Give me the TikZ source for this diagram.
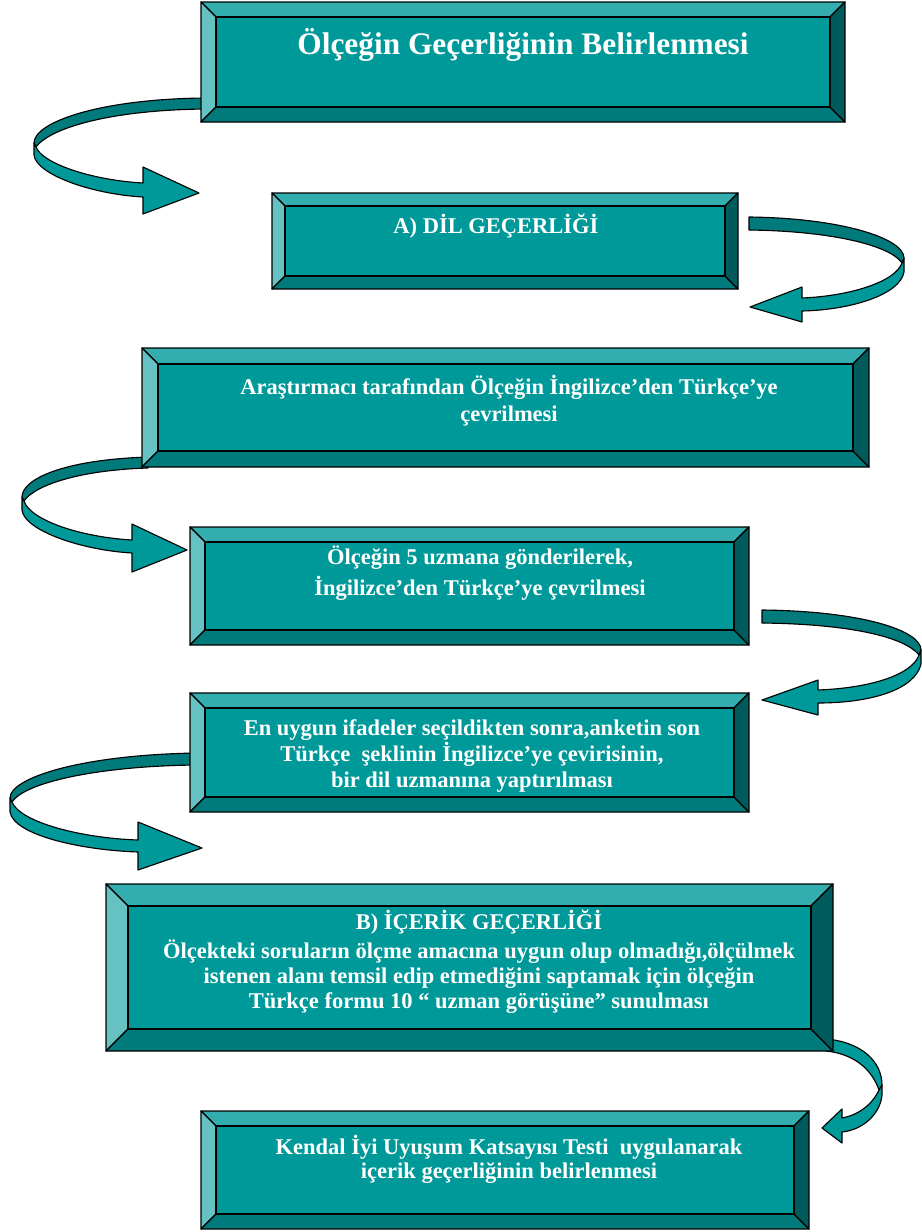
\documentclass[tikz,border=0pt]{standalone}
\usepackage{fontspec}
\setmainfont{Liberation Serif}
\definecolor{bvface}{HTML}{009999}
\definecolor{bvtop}{HTML}{33ADAD}
\definecolor{bvleft}{HTML}{66C2C2}
\definecolor{bvbottom}{HTML}{007A7A}
\definecolor{bvright}{HTML}{005C5C}
\definecolor{ribdark}{HTML}{007A7A}
\definecolor{riblight}{HTML}{009999}
\newcommand\bevbox[5]{%
  \filldraw[bvline, fill=bvtop] (#1,#2) -- (#3,#2) -- (#3-#5,#2+#5) -- (#1+#5,#2+#5) -- cycle;
  \filldraw[bvline, fill=bvleft] (#1,#2) -- (#1+#5,#2+#5) -- (#1+#5,#4-#5) -- (#1,#4) -- cycle;
  \filldraw[bvline, fill=bvbottom] (#1,#4) -- (#1+#5,#4-#5) -- (#3-#5,#4-#5) -- (#3,#4) -- cycle;
  \filldraw[bvline, fill=bvright] (#3,#2) -- (#3,#4) -- (#3-#5,#4-#5) -- (#3-#5,#2+#5) -- cycle;
  \filldraw[bvline, fill=bvface] (#1+#5,#2+#5) rectangle (#3-#5,#4-#5);
}
\begin{document}
\begin{tikzpicture}[x=0.025cm,y=-0.025cm,line join=round,
  bvline/.style={draw=black,line width=0.9pt},
  ribbon/.style={draw=black,line width=0.8pt},
  txt/.style={text=white,align=center,inner sep=0pt,font=\bfseries}]
\useasboundingbox (0,0) rectangle (922,1232);

% ribbon arrows (drawn first, tails under boxes)
% arrow 1
\filldraw[ribbon,fill=ribdark] (205,98) .. controls (100,99) and (34,122) .. (34,143) -- (36,147) .. controls (50,128) and (110,110) .. (205,109) -- cycle;
\filldraw[ribbon,fill=riblight] (34,143) -- (34,155) .. controls (36,174) and (90,194) .. (143,197) -- (143,214) -- (199,193) -- (143,167) -- (143,183) .. controls (90,180) and (42,163) .. (36,147) -- cycle;
% arrow 2
\filldraw[ribbon,fill=ribdark] (749,217) .. controls (840,218) and (904,238) .. (904,258) -- (902,263) .. controls (890,245) and (830,231) .. (749,230) -- cycle;
\filldraw[ribbon,fill=riblight] (904,258) -- (904,272) .. controls (900,295) and (850,310) .. (802,311) -- (802,322) -- (750,307) -- (802,287) -- (802,298) .. controls (850,296) and (895,282) .. (902,263) -- cycle;
% arrow 3
\filldraw[ribbon,fill=ribdark] (148,457) .. controls (60,460) and (22,480) .. (22,497) -- (24,501) .. controls (35,485) and (80,470) .. (148,468) -- cycle;
\filldraw[ribbon,fill=riblight] (22,497) -- (22,510) .. controls (24,530) and (80,550) .. (132,553) -- (132,572) -- (187,550) -- (132,524) -- (132,540) .. controls (80,537) and (30,520) .. (24,501) -- cycle;
% arrow 4
\filldraw[ribbon,fill=ribdark] (762,610) .. controls (860,611) and (921,630) .. (921,650) -- (919,655) .. controls (905,637) and (850,624) .. (762,623) -- cycle;
\filldraw[ribbon,fill=riblight] (921,650) -- (921,664) .. controls (915,690) and (870,703) .. (818,703) -- (818,715) -- (762,700) -- (818,680) -- (818,690) .. controls (870,688) and (912,675) .. (919,655) -- cycle;
% arrow 5
\filldraw[ribbon,fill=ribdark] (196,753) .. controls (80,755) and (10,778) .. (10,798) -- (12,802) .. controls (25,782) and (100,766) .. (196,765) -- cycle;
\filldraw[ribbon,fill=riblight] (10,798) -- (10,812) .. controls (14,835) and (80,850) .. (138,852) -- (138,870) -- (202,848) -- (138,822) -- (138,840) .. controls (80,838) and (20,822) .. (12,802) -- cycle;
% arrow 6
\filldraw[ribbon,fill=riblight] (826,1039) .. controls (862,1042) and (882,1062) .. (882,1085) -- (879,1090) .. controls (872,1070) and (855,1054) .. (826,1051) -- cycle;
\filldraw[ribbon,fill=riblight] (882,1085) -- (882,1095) .. controls (880,1115) and (862,1130) .. (842,1132) -- (842,1143) -- (822,1128) -- (842,1109) -- (842,1118) .. controls (858,1115) and (872,1105) .. (879,1090) -- cycle;

% boxes
\bevbox{201}{2}{845}{122}{15}
\bevbox{272}{193}{738}{289}{13}
\bevbox{142}{348}{869}{467}{16}
\bevbox{190}{527}{749}{645}{15}
\bevbox{190}{693}{749}{812}{15}
\bevbox{106}{884}{833}{1051}{22}
\bevbox{201}{1111}{809}{1229}{15}

% texts
\node[txt,font=\fontsize{22.3}{26}\selectfont\bfseries] (t1) at (523,45) {Ölçeğin Geçerliğinin Belirlenmesi};
\node[txt,font=\fontsize{16}{18}\selectfont\bfseries] (t2) at (496,226) {A) DİL GEÇERLİĞİ};
\node[txt,font=\fontsize{16}{19.2}\selectfont\bfseries] (t3) at (509,401) {Araştırmacı tarafından Ölçeğin İngilizce’den Türkçe’ye\\çevrilmesi};
\node[txt,font=\fontsize{16}{22}\selectfont\bfseries] (t4) at (480,573) {Ölçeğin 5 uzmana gönderilerek,\\ İngilizce’den Türkçe’ye çevrilmesi};
\node[txt,font=\fontsize{16}{18.5}\selectfont\bfseries] (t5) at (472,756) {En uygun ifadeler seçildikten sonra,anketin son\\Türkçe\ \ şeklinin İngilizce’ye çevirisinin,\\bir dil uzmanına yaptırılması};
\node[txt,font=\fontsize{16}{17.8}\selectfont\bfseries] (t6) at (479,962) {B) İÇERİK GEÇERLİĞİ\\[3pt]Ölçekteki soruların ölçme amacına uygun olup olmadığı,ölçülmek\\istenen alanı temsil edip etmediğini saptamak için ölçeğin\\Türkçe formu 10 “ uzman görüşüne” sunulması};
\node[txt,font=\fontsize{16}{17.2}\selectfont\bfseries] (t7) at (509,1159) {Kendal İyi Uyuşum Katsayısı Testi\ \ uygulanarak\\içerik geçerliğinin belirlenmesi};
\end{tikzpicture}
\end{document}
